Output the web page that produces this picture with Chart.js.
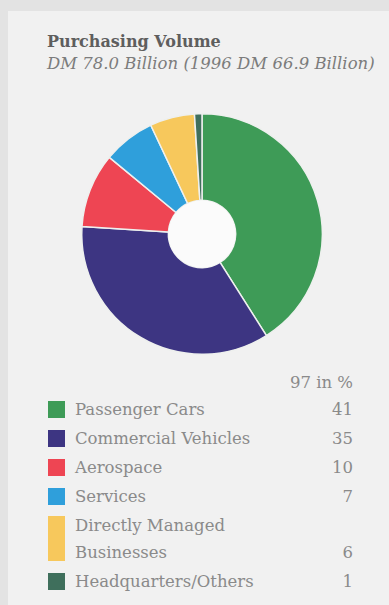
<!DOCTYPE html>
<html>
<head>
<meta charset="utf-8">
<script src="https://cdn.jsdelivr.net/npm/chart.js@4"></script>
<style>
  html, body { margin: 0; padding: 0; }
  body { width: 389px; height: 605px; background: #e3e3e3; overflow: hidden; position: relative; font-family: "DejaVu Serif", serif; }
  .panel { position: absolute; left: 8px; top: 11px; right: 0; bottom: 0; background: #f1f1f1; }
  .titulo { position: absolute; left: 47px; top: 32px; font-size: 16px; line-height: 20px; font-weight: bold; color: #5e5e5e; white-space: nowrap; }
  .sub { position: absolute; left: 47px; top: 54px; font-size: 16.5px; line-height: 20px; font-style: italic; color: #7c7c7c; white-space: nowrap; }
  .torta { position: absolute; left: 75px; top: 107px; width: 254px; height: 254px; }
  .leyenda { position: absolute; left: 0; top: 0; width: 389px; }
  .fila { position: absolute; left: 48px; width: 305px; font-size: 16.5px; color: #8a8a8a; line-height: 27px; }
  .caja { position: absolute; left: 0; width: 17px; }
  .nombre { position: absolute; left: 27px; top: 1px; white-space: nowrap; }
  .valor { position: absolute; right: 0; text-align: right; }
  .encabezado { position: absolute; right: 36px; top: 369px; font-size: 16.5px; color: #8a8a8a; line-height: 27px; }
</style>
</head>
<body>
<div class="panel"></div>
<div class="titulo">Purchasing Volume</div>
<div class="sub">DM 78.0 Billion (1996 DM 66.9 Billion)</div>
<div class="torta"><canvas id="miGrafico"></canvas></div>
<div class="encabezado">97 in %</div>
<div class="leyenda" id="leyenda"></div>

<script>
// sectores del volumen de compras 1997, en %
const sectores = ['Passenger Cars', 'Commercial Vehicles', 'Aerospace', 'Services', 'Directly Managed\nBusinesses', 'Headquarters/Others'];
const porcentajes = [41, 35, 10, 7, 6, 1];
const colores = ['#3e9b57', '#3d3582', '#ee4553', '#2f9fdb', '#f7c85c', '#3f6f5c'];

// circulo blanco del centro
const centroBlanco = {
  id: 'centroBlanco',
  afterDatasetsDraw(chart) {
    const arco = chart.getDatasetMeta(0).data[0];
    if (!arco) return;
    const ctx = chart.ctx;
    ctx.save();
    ctx.beginPath();
    ctx.arc(arco.x, arco.y, arco.innerRadius, 0, Math.PI * 2);
    ctx.fillStyle = '#fbfbfb';
    ctx.fill();
    ctx.restore();
  }
};

const config = {
  type: 'doughnut',
  data: {
    labels: sectores,
    datasets: [{
      data: porcentajes,
      backgroundColor: colores,
      borderColor: '#eef0ee',
      borderWidth: 1.5
    }]
  },
  options: {
    responsive: true,
    maintainAspectRatio: false,
    animation: false,
    cutout: '28%',
    layout: { padding: 6 },
    plugins: {
      legend: { display: false },
      tooltip: { enabled: false }
    }
  },
  plugins: [centroBlanco]
};

new Chart(document.getElementById('miGrafico'), config);

// leyenda con valores alineados a la derecha
const leyenda = document.getElementById('leyenda');
let html = '';
let y = 394.5;
for (let i = 0; i < sectores.length; i++) {
  const lineas = sectores[i].split('\n');
  const alto = lineas.length * 27 + 2;
  const altoCaja = lineas.length === 1 ? 17 : 45;
  html += `<div class="fila" style="top:${y}px;height:${alto}px">
    <div class="caja" style="top:${(alto - altoCaja) / 2}px;height:${altoCaja}px;background:${colores[i]}"></div>
    <div class="nombre">${lineas.join('<br>')}</div>
    <div class="valor" style="top:${alto - 28}px">${porcentajes[i]}</div>
  </div>`;
  y += alto;
}
leyenda.innerHTML = html;
</script>
</body>
</html>
